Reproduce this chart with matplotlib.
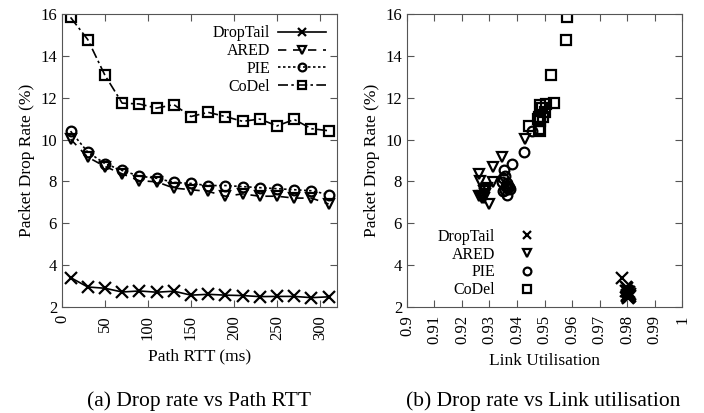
import matplotlib.pyplot as plt

plt.rcParams['font.family'] = ['Liberation Serif', 'DejaVu Serif']

# Path RTT (ms)
rtt = [10, 30, 50, 70, 90, 110, 130, 150, 170, 190, 210, 230, 250, 270, 290, 310]

# Packet drop rate (%) per queue discipline
droptail = [3.40, 2.95, 2.89, 2.71, 2.76, 2.70, 2.75, 2.56, 2.60, 2.56, 2.54, 2.49, 2.50, 2.50, 2.44, 2.48]
ared = [10.02, 9.16, 8.71, 8.36, 8.03, 7.98, 7.68, 7.60, 7.52, 7.29, 7.40, 7.29, 7.29, 7.20, 7.20, 6.92]
pie = [10.40, 9.40, 8.85, 8.52, 8.25, 8.15, 7.95, 7.90, 7.80, 7.80, 7.75, 7.70, 7.65, 7.60, 7.55, 7.37]
codel = [15.84, 14.78, 13.07, 11.74, 11.70, 11.50, 11.67, 11.10, 11.30, 11.10, 10.87, 10.98, 10.65, 10.96, 10.52, 10.42]

# Link utilisation for the same runs
util_droptail = [0.9781, 0.9795, 0.9800, 0.9803, 0.9797, 0.9808, 0.9800, 0.9805,
                 0.9812, 0.9798, 0.9806, 0.9802, 0.9810, 0.9800, 0.9805, 0.9808]
util_ared = [0.9429, 0.9347, 0.9312, 0.9263, 0.9265, 0.9314, 0.9290, 0.9285,
             0.9280, 0.9268, 0.9285, 0.9275, 0.9262, 0.9272, 0.9280, 0.9300]
util_pie = [0.9453, 0.9425, 0.9383, 0.9353, 0.9356, 0.9350, 0.9345, 0.9365,
            0.9368, 0.9360, 0.9372, 0.9362, 0.9375, 0.9358, 0.9348, 0.9365]
util_codel = [0.9583, 0.9577, 0.9524, 0.9535, 0.9505, 0.9490, 0.9484, 0.9495,
              0.9502, 0.9480, 0.9483, 0.9478, 0.9444, 0.9485, 0.9480, 0.9485]

names = ['DropTail', 'ARED', 'PIE', 'CoDel']
markers = ['x', 'v', 'o', 's']
styles = ['-', (0, (5, 4)), (0, (1.5, 1.5)), (0, (6, 2, 1.5, 2))]

fig = plt.figure(figsize=(7.04, 4.13), dpi=100)
ax1 = fig.add_axes([0.088, 0.257, 0.391, 0.709])
ax2 = fig.add_axes([0.578, 0.257, 0.391, 0.709])

# (a) drop rate vs RTT
for ys, name, m, ls in zip([droptail, ared, pie, codel], names, markers, styles):
    ax1.plot(rtt, ys, color='black', linestyle=ls, linewidth=1.2, marker=m,
             markersize=8 if m == 'x' else 7, markerfacecolor='none',
             markeredgewidth=1.6, label=name)
ax1.set_xlim(0, 320)
ax1.set_xticks(range(0, 301, 50))
ax1.set_xlabel('Path RTT (ms)', fontsize=12.5, labelpad=6)
leg1 = ax1.legend(loc='upper right', markerfirst=False, frameon=False,
                  fontsize=11.5, handlelength=3.0, borderaxespad=0.3,
                  labelspacing=0.12, handletextpad=0.5, markerscale=0.8)

# (b) drop rate vs link utilisation
for xs, ys, name, m in zip([util_droptail, util_ared, util_pie, util_codel],
                           [droptail, ared, pie, codel], names, markers):
    ax2.plot(xs, ys, linestyle='none', color='black', marker=m,
             markersize=8 if m == 'x' else 7, markerfacecolor='none',
             markeredgewidth=1.6, label=name)
ax2.set_xlim(0.9, 1.0)
ax2.set_xticks([0.9 + 0.01 * i for i in range(11)])
ax2.set_xticklabels(['0.9', '0.91', '0.92', '0.93', '0.94', '0.95', '0.96',
                     '0.97', '0.98', '0.99', '1'])
ax2.set_xlabel('Link Utilisation', fontsize=12.5, labelpad=6)
ax2.legend(loc='lower left', bbox_to_anchor=(0.06, -0.02), markerfirst=False,
           frameon=False, fontsize=11.5, handlelength=2.0, labelspacing=0.12,
           handletextpad=1.0, markerscale=0.8)

for ax in (ax1, ax2):
    ax.set_ylim(2, 16)
    ax.set_yticks(range(2, 17, 2))
    ax.set_ylabel('Packet Drop Rate (%)', fontsize=12.5)
    ax.tick_params(direction='in', top=True, right=True, length=5,
                   labelsize=12, color='#555555')
    ax.tick_params(axis='x', labelrotation=90, pad=6)
    for s in ax.spines.values():
        s.set_color('#555555')

fig.text(0.282, 0.029, '(a) Drop rate vs Path RTT', ha='center', va='center', fontsize=15.5)
fig.text(0.771, 0.029, '(b) Drop rate vs Link utilisation', ha='center', va='center', fontsize=15.5)

fig.savefig('out.png', dpi=100)
